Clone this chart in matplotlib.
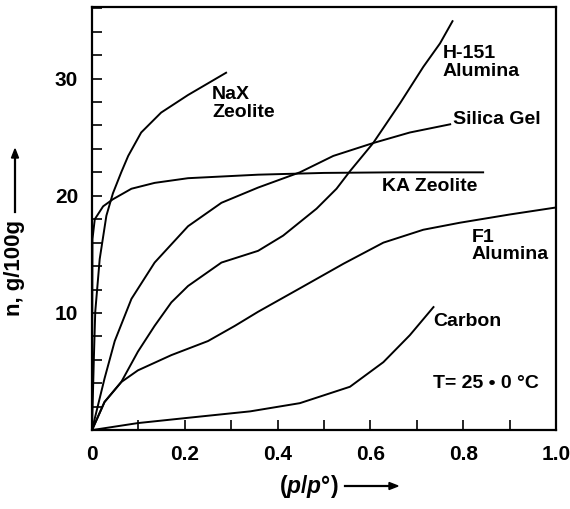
import matplotlib.pyplot as plt
from matplotlib.ticker import MultipleLocator, FixedLocator

plt.rcParams['font.family'] = ['Liberation Sans', 'DejaVu Sans']
plt.rcParams['font.weight'] = 'bold'
plt.rcParams['mathtext.fontset'] = 'custom'
plt.rcParams['mathtext.it'] = 'Liberation Sans:style=italic:weight=bold'
plt.rcParams['mathtext.rm'] = 'Liberation Sans:weight=bold'

# isotherms: relative pressure p/p0 vs loading n (g/100g)
nax_x = [0, 0.004, 0.007, 0.0166, 0.031, 0.045, 0.063, 0.078, 0.106, 0.149, 0.207, 0.289]
nax_y = [0, 6.1, 10.1, 14.6, 18.3, 20.2, 22.0, 23.4, 25.4, 27.1, 28.6, 30.5]

ka_x = [0, 0.001, 0.006, 0.024, 0.045, 0.085, 0.135, 0.207, 0.358, 0.5, 0.65, 0.843]
ka_y = [0, 16.3, 18.0, 19.1, 19.7, 20.6, 21.1, 21.5, 21.8, 21.95, 22.0, 22.0]

silica_x = [0, 0.006, 0.027, 0.049, 0.085, 0.135, 0.207, 0.279, 0.358, 0.448, 0.52, 0.606, 0.685, 0.772]
silica_y = [0, 1.0, 4.4, 7.6, 11.2, 14.3, 17.4, 19.4, 20.7, 22.0, 23.4, 24.5, 25.4, 26.1]

h151_x = [0, 0.027, 0.063, 0.099, 0.135, 0.171, 0.207, 0.279, 0.358, 0.412, 0.484, 0.527,
          0.556, 0.606, 0.664, 0.714, 0.75, 0.777]
h151_y = [0, 2.4, 4.1, 6.7, 8.9, 10.9, 12.3, 14.3, 15.3, 16.6, 18.9, 20.6,
          22.1, 24.5, 27.9, 31.0, 33.0, 34.9]

f1_x = [0, 0.027, 0.063, 0.099, 0.171, 0.25, 0.308, 0.358, 0.448, 0.542, 0.628, 0.714,
        0.793, 0.9, 1.0]
f1_y = [0, 2.4, 4.1, 5.1, 6.4, 7.6, 8.9, 10.1, 12.1, 14.2, 16.0, 17.1,
        17.7, 18.4, 19.0]

carbon_x = [0, 0.099, 0.207, 0.341, 0.448, 0.556, 0.628, 0.685, 0.736]
carbon_y = [0, 0.6, 1.05, 1.6, 2.3, 3.7, 5.8, 8.1, 10.5]

x_ticks = [0, 0.2, 0.4, 0.6, 0.8, 1.0]
x_tick_labels = ['0', '0.2', '0.4', '0.6', '0.8', '1.0']
y_ticks = [10, 20, 30]

fig = plt.figure(figsize=(5.7, 5.09), dpi=100)
ax = fig.add_axes([0.1614, 0.155, 0.814, 0.831])

for xs, ys in [(nax_x, nax_y), (ka_x, ka_y), (silica_x, silica_y),
               (h151_x, h151_y), (f1_x, f1_y), (carbon_x, carbon_y)]:
    ax.plot(xs, ys, color='black', lw=1.4, solid_joinstyle='round')

ax.set_xlim(0, 1.0)
ax.set_ylim(0, 36.1)
ax.xaxis.set_major_locator(FixedLocator(x_ticks))
ax.set_xticklabels(x_tick_labels)
ax.xaxis.set_minor_locator(MultipleLocator(0.1))
ax.yaxis.set_major_locator(FixedLocator(y_ticks))
ax.yaxis.set_minor_locator(MultipleLocator(2))
ax.tick_params(which='both', direction='in', width=1.2, length=7)
ax.tick_params(axis='x', labelsize=15, pad=11)
ax.tick_params(axis='y', labelsize=15, pad=10)
for sp in ax.spines.values():
    sp.set_linewidth(1.6)

# curve labels
lab = dict(fontsize=14, fontweight='bold', ha='left', va='center')
ax.text(0.259, 27.9, 'NaX\nZeolite', linespacing=1.05, **lab)
ax.text(0.756, 31.4, 'H-151\nAlumina', linespacing=1.05, **lab)
ax.text(0.778, 26.5, 'Silica Gel', **lab)
ax.text(0.625, 20.8, 'KA Zeolite', **lab)
ax.text(0.819, 15.7, 'F1\nAlumina', linespacing=1.05, **lab)
ax.text(0.735, 9.3, 'Carbon', **lab)
ax.text(0.735, 3.96, 'T= 25 \u2022 0 \u00b0C', **lab)

# axis titles with long arrows
W, H = 570, 509
fig.text(339 / W, 1 - 487 / H, '($p/p$\u00b0)', fontsize=16.5,
         fontweight='bold', ha='right', va='center')
fig.add_artist(plt.Line2D([345 / W, 390 / W], [1 - 486 / H, 1 - 486 / H],
                          color='black', lw=1.6))
fig.add_artist(plt.Polygon([[389 / W, 1 - 482.5 / H], [398 / W, 1 - 486 / H],
                            [389 / W, 1 - 489.5 / H]], color='black'))
fig.text(15 / W, 1 - 316 / H, 'n, g/100g', fontsize=16,
         fontweight='bold', ha='center', va='bottom', rotation=90)
fig.add_artist(plt.Line2D([15 / W, 15 / W], [1 - 212 / H, 1 - 158 / H],
                          color='black', lw=1.6))
fig.add_artist(plt.Polygon([[11.5 / W, 1 - 158 / H], [15 / W, 1 - 149 / H],
                            [18.5 / W, 1 - 158 / H]], color='black'))

fig.savefig('out.png', dpi=100)
